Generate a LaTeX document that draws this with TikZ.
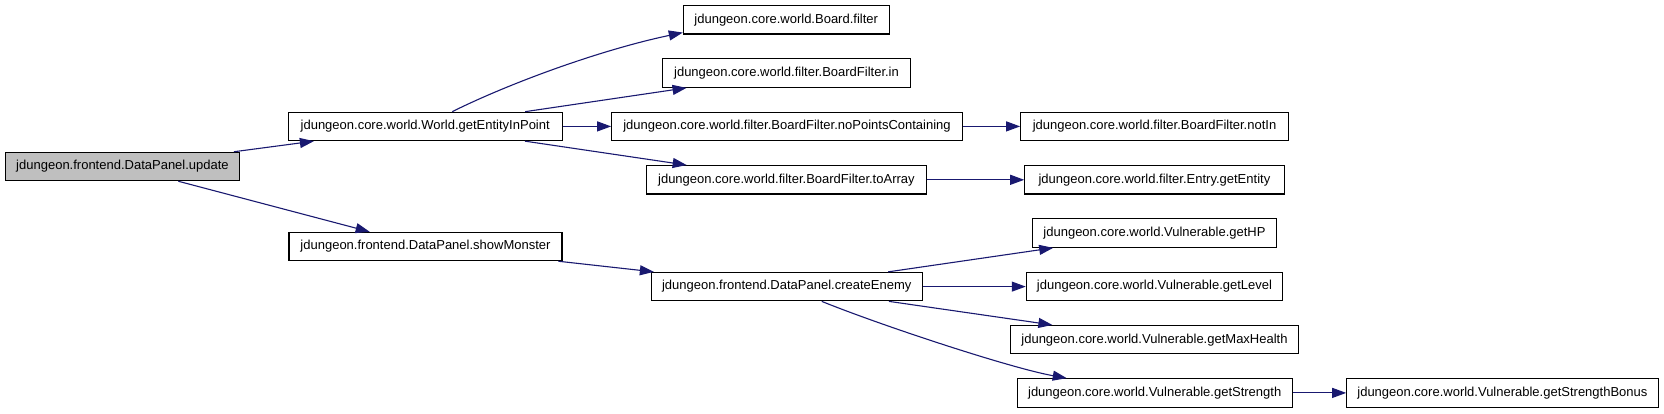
\documentclass[tikz,border=0pt]{standalone}
\usepackage{fontspec}
\setmainfont{Liberation Sans}
\usetikzlibrary{arrows.meta}
\definecolor{edgeblue}{HTML}{191970}
\definecolor{hilite}{HTML}{BFBFBF}
\tikzset{
  fn/.style={draw=black, line width=1.1pt, fill=white, minimum height=28.4pt, inner sep=0pt,
    font=\fontsize{13pt}{15pt}\selectfont, text=black, anchor=center},
  cur/.style={fn, fill=hilite},
  edge/.style={draw=edgeblue, line width=1.1pt, -{Triangle[length=14pt,width=10pt]}, edgeblue},
}
\begin{document}
\begin{tikzpicture}[x=1pt,y=-1pt]
\useasboundingbox (0,0) rectangle (1664,413);
% column 0
\node[cur, minimum width=233.6pt] (upd) at (122.5,166.5) {jdungeon.frontend.DataPanel.update};
% column 1
\node[fn, minimum width=273.7pt] (gep) at (425.2,126.4) {jdungeon.core.world.World.getEntityInPoint};
\node[fn, minimum width=273pt] (sm) at (425.5,246.5) {jdungeon.frontend.DataPanel.showMonster};
% column 2
\node[fn, minimum width=205.7pt] (bf) at (786.2,19.8) {jdungeon.core.world.Board.filter};
\node[fn, minimum width=248.4pt] (bin) at (786.5,73.1) {jdungeon.core.world.filter.BoardFilter.in};
\node[fn, minimum width=350.6pt] (np) at (787,126.4) {jdungeon.core.world.filter.BoardFilter.noPointsContaining};
\node[fn, minimum width=279.3pt] (ta) at (786.4,179.8) {jdungeon.core.world.filter.BoardFilter.toArray};
\node[fn, minimum width=271.3pt] (ce) at (786.7,286.6) {jdungeon.frontend.DataPanel.createEnemy};
% column 3
\node[fn, minimum width=267.6pt] (ni) at (1154.5,126.4) {jdungeon.core.world.filter.BoardFilter.notIn};
\node[fn, minimum width=259.3pt] (ge) at (1154.4,179.8) {jdungeon.core.world.filter.Entry.getEntity};
\node[fn, minimum width=244.4pt] (hp) at (1154.5,233.1) {jdungeon.core.world.Vulnerable.getHP};
\node[fn, minimum width=256.4pt] (lv) at (1154.5,286.6) {jdungeon.core.world.Vulnerable.getLevel};
\node[fn, minimum width=288.4pt] (mh) at (1154.5,339.7) {jdungeon.core.world.Vulnerable.getMaxHealth};
\node[fn, minimum width=275.3pt] (st) at (1154.7,392.9) {jdungeon.core.world.Vulnerable.getStrength};
% column 4
\node[fn, minimum width=311.3pt] (sb) at (1502.4,392.9) {jdungeon.core.world.Vulnerable.getStrengthBonus};
% edges
\draw[edge] (upd) -- (gep);
\draw[edge] (upd) -- (sm);
\draw[edge] ([xshift=27pt]gep.north) .. controls (510,83) and (600,50) .. ([yshift=2pt]bf.south west);
\draw[edge] (gep) -- (bin);
\draw[edge] (gep) -- (np);
\draw[edge] (gep) -- (ta);
\draw[edge] (np) -- (ni);
\draw[edge] (ta) -- (ge);
\draw[edge] (sm) -- (ce);
\draw[edge] (ce) -- (hp);
\draw[edge] (ce) -- (lv);
\draw[edge] (ce) -- (mh);
\draw[edge] ([xshift=35pt]ce.south) .. controls (880,325) and (1010,368) .. ([xshift=-88pt]st.north);
\draw[edge] (st) -- (sb);
\end{tikzpicture}
\end{document}
